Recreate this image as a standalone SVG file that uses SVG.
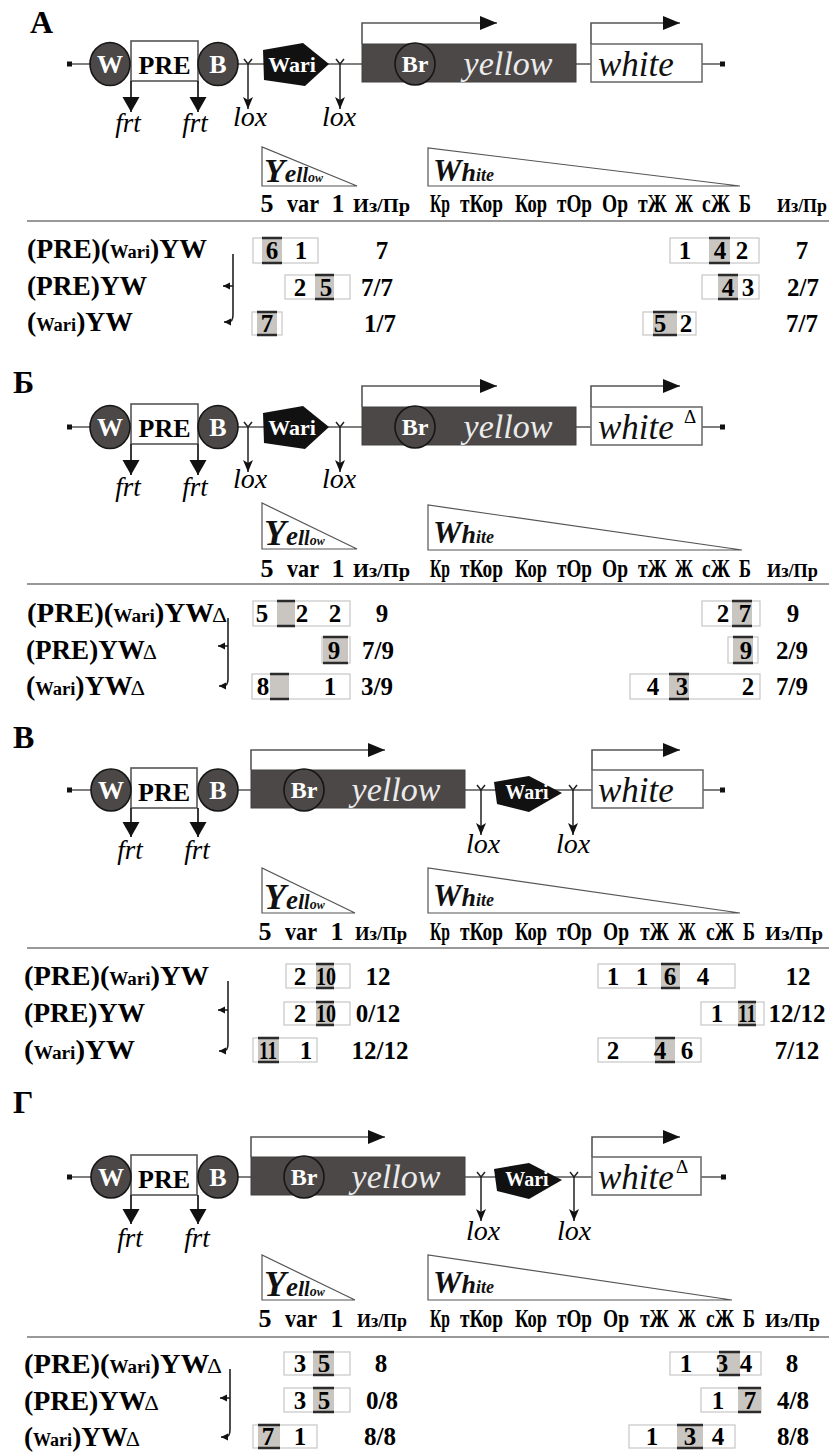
<svg xmlns="http://www.w3.org/2000/svg" width="829" height="1452" viewBox="0 0 829 1452">
<defs>
<style>
text{font-family:"Liberation Serif","Times New Roman",serif}
.bb{stroke:#555;stroke-width:1.6;fill:none}
.dk{fill:#4b4847;stroke:#161616;stroke-width:1.6}
.yg{fill:#4b4847;stroke:#404040;stroke-width:1}
.wg{fill:#fff;stroke:#6e6e6e;stroke-width:1.6}
.pre{fill:#fff;stroke:#555;stroke-width:1.6}
.wari{fill:#111}
.tss{stroke:#555;stroke-width:1.6;fill:none;marker-end:url(#tss)}
.frt{stroke:#222;stroke-width:1.8;fill:none;marker-end:url(#frtH)}
.lox{stroke:#222;stroke-width:1.5;fill:none;marker-end:url(#loxH)}
.fork{stroke:#222;stroke-width:1.5;fill:none}
.sq{fill:#111}
.pl{font-size:32px;font-weight:bold}
.wt{fill:#fff;font-weight:bold;text-anchor:middle}
.it{font-style:italic}
.mid{text-anchor:middle}
.ytx{font-style:italic;fill:#ebebeb;font-size:34px;text-anchor:middle}
.wtx{font-style:italic;fill:#111;font-size:35px}
.dl{font-size:19px;text-anchor:middle}
.tri{fill:#fff;stroke:#555;stroke-width:1.2}
.tt{font-style:italic;font-weight:bold;fill:#111}
.hd{font-size:26px;font-weight:bold}
.hs{font-size:19px;font-weight:bold}
.rule{stroke:#777;stroke-width:1.5}
.lb{font-size:27px;font-weight:bold}
.sw{font-size:18px}
.ld{font-size:22px;font-weight:normal}
.n{font-size:25px;font-weight:bold;text-anchor:middle}
.bx{fill:#fff;stroke:#c6c6c6;stroke-width:1.2}
.sh{fill:#c9c5c1}
.shl{stroke:#2b2b2b;stroke-width:2.5}
.br{stroke:#222;stroke-width:1.6;fill:none}
.bra{stroke:#222;stroke-width:1.6;fill:none;marker-end:url(#brH)}
</style>
<marker id="tss" markerUnits="userSpaceOnUse" markerWidth="18" markerHeight="16" refX="17" refY="7" orient="auto"><path d="M0,0 L17,7 L0,14 Z" fill="#111"/></marker>
<marker id="frtH" markerUnits="userSpaceOnUse" markerWidth="16" markerHeight="18" refX="15" refY="8.5" orient="auto"><path d="M0,0 L15,8.5 L0,17 Z" fill="#111"/></marker>
<marker id="loxH" markerUnits="userSpaceOnUse" markerWidth="13" markerHeight="11" refX="12" refY="5" orient="auto"><path d="M0,0 L12,5 L0,10 L3,5 Z" fill="#111"/></marker>
<marker id="brH" markerUnits="userSpaceOnUse" markerWidth="8" markerHeight="8" refX="7" refY="3.5" orient="auto"><path d="M0,0 L7,3.5 L0,7 Z" fill="#111"/></marker>
</defs>

<!-- ===================== Panel A ===================== -->
<g id="panelA">
<text class="pl" x="30" y="33">А</text>
<g id="A-construct">
<line class="bb" x1="70" y1="64" x2="722" y2="64"/>
<rect class="sq" x="67" y="61.5" width="5" height="5"/>
<rect class="sq" x="720" y="61.5" width="5" height="5"/>
<g id="A-pre"><rect class="pre" x="131" y="41" width="67" height="40"/><text x="164.5" y="74" font-size="26" font-weight="bold" class="mid">PRE</text></g>
<g id="A-W"><ellipse class="dk" cx="110" cy="64" rx="20" ry="21.5"/><text class="wt" x="110" y="73" font-size="26">W</text></g>
<g id="A-B"><ellipse class="dk" cx="218" cy="64" rx="20" ry="21.5"/><text class="wt" x="218" y="73" font-size="26">B</text></g>
<g id="A-wari"><polygon class="wari" points="263,50 303,43 329,64 305,86 264,80"/><text class="wt" x="292" y="72" font-size="22">Wari</text></g>
<g id="A-yellow"><rect class="yg" x="362" y="44" width="214" height="38"/><ellipse class="dk" cx="415" cy="64" rx="20" ry="21"/><text class="wt" x="415" y="72" font-size="24">Br</text><text class="ytx" x="508" y="75">yellow</text></g>
<g id="A-white"><rect class="wg" x="591" y="44" width="111" height="38"/><text class="wtx" x="598" y="76">white</text></g>
</g>
<g id="A-connectors">
<path class="tss" d="M362,44 V23 H497"/>
<path class="tss" d="M591,44 V23 H680"/>
<path class="frt" d="M131,81 V112"/><path class="frt" d="M198,81 V112"/>
<path class="fork" d="M244,59 L248,64 L252,59"/><path class="lox" d="M248,64 V109"/>
<path class="fork" d="M336,59 L340,64 L344,59"/><path class="lox" d="M340,64 V109"/>
</g>
<text class="it mid" x="128" y="132" font-size="27">frt</text>
<text class="it mid" x="195" y="132" font-size="27">frt</text>
<text class="it mid" x="250" y="126" font-size="28">lox</text>
<text class="it mid" x="339" y="126" font-size="28">lox</text>

<g id="A-table">
<polygon class="tri" points="262,147 262,186 357,186"/>
<text class="tt" x="264" y="182"><tspan font-size="34">Y</tspan><tspan font-size="26">e</tspan><tspan font-size="22">l</tspan><tspan font-size="20">l</tspan><tspan font-size="14">o</tspan><tspan font-size="12">w</tspan></text>
<polygon class="tri" points="428,148 428,186 740,186"/>
<text class="tt" x="433" y="181"><tspan font-size="32">W</tspan><tspan font-size="26">h</tspan><tspan font-size="18">ite</tspan></text>
<text class="hd mid" x="267" y="212">5</text><text class="hd" x="287" y="212" textLength="32" lengthAdjust="spacingAndGlyphs">var</text><text class="hd mid" x="338" y="212">1</text>
<text class="hs" x="353" y="212" textLength="57" lengthAdjust="spacingAndGlyphs">Из/Пр</text>
<text class="hd" x="430" y="212" textLength="20" lengthAdjust="spacingAndGlyphs">Кр</text>
<text class="hd" x="460" y="212" textLength="43" lengthAdjust="spacingAndGlyphs">тКор</text>
<text class="hd" x="515" y="212" textLength="32" lengthAdjust="spacingAndGlyphs">Кор</text>
<text class="hd" x="557" y="212" textLength="35" lengthAdjust="spacingAndGlyphs">тОр</text>
<text class="hd" x="602" y="212" textLength="26" lengthAdjust="spacingAndGlyphs">Ор</text>
<text class="hd" x="638" y="212" textLength="29" lengthAdjust="spacingAndGlyphs">тЖ</text>
<text class="hd" x="675" y="212" textLength="18" lengthAdjust="spacingAndGlyphs">Ж</text>
<text class="hd" x="702" y="212" textLength="28" lengthAdjust="spacingAndGlyphs">сЖ</text>
<text class="hd" x="739" y="212" textLength="12" lengthAdjust="spacingAndGlyphs">Б</text>
<text class="hs" x="777" y="212" textLength="50" lengthAdjust="spacingAndGlyphs">Из/Пр</text>
<line class="rule" x1="27" y1="221" x2="829" y2="221"/>

<text class="lb" x="27" y="258" textLength="180" lengthAdjust="spacingAndGlyphs">(PRE)(<tspan class="sw">Wari</tspan>)YW</text>
<text class="lb" x="27" y="295" textLength="120" lengthAdjust="spacingAndGlyphs">(PRE)YW</text>
<text class="lb" x="27" y="331" textLength="106" lengthAdjust="spacingAndGlyphs">(<tspan class="sw">Wari</tspan>)YW</text>
<path class="br" d="M233,254 V315 Q233,322 228,322"/>
<path class="bra" d="M228,322 H224"/>
<path class="bra" d="M233,286 H223"/>

<!-- row 1 -->
<rect class="bx" x="253" y="238" width="65" height="25"/><rect class="sh" x="262" y="238" width="20" height="25"/><path class="shl" d="M262,238 H282 M262,263 H282"/>
<text class="n" x="272" y="259">6</text><text class="n" x="301" y="259">1</text><text class="n" x="382" y="259">7</text>
<rect class="bx" x="670" y="238" width="89" height="25"/><rect class="sh" x="709" y="238" width="21" height="25"/><path class="shl" d="M709,238 H730 M709,263 H730"/>
<text class="n" x="685" y="259">1</text><text class="n" x="720" y="259">4</text><text class="n" x="742" y="259">2</text><text class="n" x="802" y="259">7</text>
<!-- row 2 -->
<rect class="bx" x="285" y="275" width="65" height="24"/><rect class="sh" x="315" y="275" width="19" height="24"/><path class="shl" d="M315,275 H334 M315,299 H334"/>
<text class="n" x="300" y="296">2</text><text class="n" x="326" y="296">5</text><text class="n" x="377" y="296">7/7</text>
<rect class="bx" x="702" y="275" width="57" height="24"/><rect class="sh" x="718" y="275" width="20" height="24"/><path class="shl" d="M718,275 H738 M718,299 H738"/>
<text class="n" x="728" y="296">4</text><text class="n" x="748" y="296">3</text><text class="n" x="803" y="296">2/7</text>
<!-- row 3 -->
<rect class="bx" x="252" y="312" width="30" height="23"/><rect class="sh" x="257" y="312" width="20" height="23"/><path class="shl" d="M257,312 H277 M257,335 H277"/>
<text class="n" x="267" y="332">7</text><text class="n" x="380" y="332">1/7</text>
<rect class="bx" x="643" y="312" width="53" height="23"/><rect class="sh" x="653" y="312" width="24" height="23"/><path class="shl" d="M653,312 H677 M653,335 H677"/>
<text class="n" x="660" y="332">5</text><text class="n" x="686" y="332">2</text><text class="n" x="802" y="332">7/7</text>
</g>
</g>

<!-- ===================== Panel Б ===================== -->
<g id="panelB">
<text class="pl" x="13" y="393">Б</text>
<g id="B-construct" transform="translate(0,363)">
<line class="bb" x1="70" y1="64" x2="722" y2="64"/>
<rect class="sq" x="67" y="61.5" width="5" height="5"/>
<rect class="sq" x="720" y="61.5" width="5" height="5"/>
<g id="B-pre"><rect class="pre" x="131" y="41" width="67" height="40"/><text x="164.5" y="74" font-size="26" font-weight="bold" class="mid">PRE</text></g>
<g id="B-W"><ellipse class="dk" cx="110" cy="64" rx="20" ry="21.5"/><text class="wt" x="110" y="73" font-size="26">W</text></g>
<g id="B-B"><ellipse class="dk" cx="218" cy="64" rx="20" ry="21.5"/><text class="wt" x="218" y="73" font-size="26">B</text></g>
<g id="B-wari"><polygon class="wari" points="263,50 303,43 329,64 305,86 264,80"/><text class="wt" x="292" y="72" font-size="22">Wari</text></g>
<g id="B-yellow"><rect class="yg" x="362" y="44" width="214" height="38"/><ellipse class="dk" cx="415" cy="64" rx="20" ry="21"/><text class="wt" x="415" y="72" font-size="24">Br</text><text class="ytx" x="508" y="75">yellow</text></g>
<g id="B-white"><rect class="wg" x="591" y="44" width="111" height="38"/><text class="wtx" x="598" y="76">white</text><text class="dl" x="690" y="60">Δ</text></g>
<g id="B-connectors">
<path class="tss" d="M362,44 V23 H497"/>
<path class="tss" d="M591,44 V23 H680"/>
<path class="frt" d="M131,81 V112"/><path class="frt" d="M198,81 V112"/>
<path class="fork" d="M244,59 L248,64 L252,59"/><path class="lox" d="M248,64 V109"/>
<path class="fork" d="M336,59 L340,64 L344,59"/><path class="lox" d="M340,64 V109"/>
</g>
<text class="it mid" x="128" y="133" font-size="27">frt</text>
<text class="it mid" x="195" y="133" font-size="27">frt</text>
<text class="it mid" x="250" y="125" font-size="28">lox</text>
<text class="it mid" x="339" y="125" font-size="28">lox</text>
</g>

<g id="B-table">
<polygon class="tri" points="262,503 262,549 357,549"/>
<text class="tt" x="264" y="545"><tspan font-size="36">Y</tspan><tspan font-size="27">e</tspan><tspan font-size="22">l</tspan><tspan font-size="20">l</tspan><tspan font-size="14">o</tspan><tspan font-size="12">w</tspan></text>
<polygon class="tri" points="428,505 428,550 742,550"/>
<text class="tt" x="433" y="543"><tspan font-size="32">W</tspan><tspan font-size="26">h</tspan><tspan font-size="18">ite</tspan></text>
<text class="hd mid" x="267" y="577">5</text><text class="hd" x="287" y="577" textLength="32" lengthAdjust="spacingAndGlyphs">var</text><text class="hd mid" x="338" y="577">1</text>
<text class="hs" x="353" y="577" textLength="57" lengthAdjust="spacingAndGlyphs">Из/Пр</text>
<text class="hd" x="430" y="577" textLength="20" lengthAdjust="spacingAndGlyphs">Кр</text>
<text class="hd" x="460" y="577" textLength="43" lengthAdjust="spacingAndGlyphs">тКор</text>
<text class="hd" x="515" y="577" textLength="32" lengthAdjust="spacingAndGlyphs">Кор</text>
<text class="hd" x="557" y="577" textLength="35" lengthAdjust="spacingAndGlyphs">тОр</text>
<text class="hd" x="602" y="577" textLength="26" lengthAdjust="spacingAndGlyphs">Ор</text>
<text class="hd" x="638" y="577" textLength="29" lengthAdjust="spacingAndGlyphs">тЖ</text>
<text class="hd" x="675" y="577" textLength="18" lengthAdjust="spacingAndGlyphs">Ж</text>
<text class="hd" x="702" y="577" textLength="28" lengthAdjust="spacingAndGlyphs">сЖ</text>
<text class="hd" x="739" y="577" textLength="12" lengthAdjust="spacingAndGlyphs">Б</text>
<text class="hs" x="767" y="577" textLength="51" lengthAdjust="spacingAndGlyphs">Из/Пр</text>
<line class="rule" x1="27" y1="584" x2="829" y2="584"/>

<text class="lb" x="27" y="622" textLength="200" lengthAdjust="spacingAndGlyphs">(PRE)(<tspan class="sw">Wari</tspan>)YW<tspan class="ld" dx="-2">Δ</tspan></text>
<text class="lb" x="26" y="659" textLength="131" lengthAdjust="spacingAndGlyphs">(PRE)YW<tspan class="ld" dx="-2">Δ</tspan></text>
<text class="lb" x="26" y="695" textLength="119" lengthAdjust="spacingAndGlyphs">(<tspan class="sw">Wari</tspan>)YW<tspan class="ld" dx="-2">Δ</tspan></text>
<path class="br" d="M228,618 V679 Q228,686 223,686"/>
<path class="bra" d="M223,686 H219"/>
<path class="bra" d="M228,646 H218"/>

<!-- row 1 -->
<rect class="bx" x="253" y="601" width="97" height="25"/><rect class="sh" x="277" y="601" width="18" height="25"/><path class="shl" d="M277,601 H295 M277,626 H295"/>
<text class="n" x="262" y="622">5</text><text class="n" x="302" y="622">2</text><text class="n" x="335" y="622">2</text><text class="n" x="382" y="622">9</text>
<rect class="bx" x="702" y="601" width="58" height="25"/><rect class="sh" x="732" y="601" width="20" height="25"/><path class="shl" d="M732,601 H752 M732,626 H752"/>
<text class="n" x="723" y="622">2</text><text class="n" x="745" y="622">7</text><text class="n" x="793" y="622">9</text>
<!-- row 2 -->
<rect class="bx" x="322" y="637" width="28" height="26"/><rect class="sh" x="323" y="637" width="25" height="26"/><path class="shl" d="M323,637 H348 M323,663 H348"/>
<text class="n" x="334" y="659">9</text><text class="n" x="378" y="659">7/9</text>
<rect class="bx" x="728" y="637" width="30" height="26"/><rect class="sh" x="733" y="637" width="20" height="26"/><path class="shl" d="M733,637 H753 M733,663 H753"/>
<text class="n" x="746" y="659">9</text><text class="n" x="792" y="659">2/9</text>
<!-- row 3 -->
<rect class="bx" x="252" y="674" width="98" height="25"/><rect class="sh" x="270" y="674" width="19" height="25"/><path class="shl" d="M270,674 H289 M270,699 H289"/>
<text class="n" x="263" y="695">8</text><text class="n" x="330" y="695">1</text><text class="n" x="377" y="695">3/9</text>
<rect class="bx" x="630" y="674" width="130" height="25"/><rect class="sh" x="669" y="674" width="20" height="25"/><path class="shl" d="M669,674 H689 M669,699 H689"/>
<text class="n" x="653" y="695">4</text><text class="n" x="682" y="695">3</text><text class="n" x="748" y="695">2</text><text class="n" x="792" y="695">7/9</text>
</g>
</g>

<!-- ===================== Panel В ===================== -->
<g id="panelV">
<text class="pl" x="13" y="748">В</text>
<g id="V-construct" transform="translate(0,726)">
<line class="bb" x1="70" y1="64" x2="722" y2="64"/>
<rect class="sq" x="67" y="61.5" width="5" height="5"/>
<rect class="sq" x="720" y="61.5" width="5" height="5"/>
<g id="V-pre"><rect class="pre" x="131" y="42" width="66" height="40"/><text x="164" y="75" font-size="26" font-weight="bold" class="mid">PRE</text></g>
<g id="V-W"><ellipse class="dk" cx="111" cy="64" rx="20" ry="21"/><text class="wt" x="111" y="73" font-size="26">W</text></g>
<g id="V-B"><ellipse class="dk" cx="218" cy="64" rx="20" ry="21"/><text class="wt" x="218" y="73" font-size="26">B</text></g>
<g id="V-yellow"><rect class="yg" x="251" y="44" width="214" height="38"/><ellipse class="dk" cx="304" cy="64" rx="20" ry="21"/><text class="wt" x="304" y="72" font-size="24">Br</text><text class="ytx" x="396" y="75">yellow</text></g>
<g id="V-wari"><polygon class="wari" points="494,56 529,50 562,67 529,86 497,78"/><text class="wt" x="527" y="73" font-size="20">Wari</text></g>
<g id="V-white"><rect class="wg" x="592" y="44" width="111" height="38"/><text class="wtx" x="598" y="76">white</text></g>
<g id="V-connectors">
<path class="tss" d="M251,44 V24 H385"/>
<path class="tss" d="M592,44 V24 H680"/>
<path class="frt" d="M131,82 V111"/><path class="frt" d="M198,82 V111"/>
<path class="fork" d="M477,59 L481,64 L485,59"/><path class="lox" d="M481,64 V109"/>
<path class="fork" d="M569,59 L573,64 L577,59"/><path class="lox" d="M573,64 V109"/>
</g>
<text class="it mid" x="130" y="133" font-size="27">frt</text>
<text class="it mid" x="197" y="133" font-size="27">frt</text>
<text class="it mid" x="483" y="127" font-size="28">lox</text>
<text class="it mid" x="573" y="127" font-size="28">lox</text>
</g>

<g id="V-table">
<polygon class="tri" points="262,868 262,913 355,913"/>
<text class="tt" x="264" y="909"><tspan font-size="36">Y</tspan><tspan font-size="27">e</tspan><tspan font-size="22">l</tspan><tspan font-size="20">l</tspan><tspan font-size="14">o</tspan><tspan font-size="12">w</tspan></text>
<polygon class="tri" points="428,868 428,913 740,913"/>
<text class="tt" x="433" y="906"><tspan font-size="32">W</tspan><tspan font-size="26">h</tspan><tspan font-size="18">ite</tspan></text>
<text class="hd mid" x="265" y="940">5</text><text class="hd" x="285" y="940" textLength="32" lengthAdjust="spacingAndGlyphs">var</text><text class="hd mid" x="337" y="940">1</text>
<text class="hs" x="355" y="940" textLength="52" lengthAdjust="spacingAndGlyphs">Из/Пр</text>
<text class="hd" x="430" y="940" textLength="20" lengthAdjust="spacingAndGlyphs">Кр</text>
<text class="hd" x="460" y="940" textLength="43" lengthAdjust="spacingAndGlyphs">тКор</text>
<text class="hd" x="515" y="940" textLength="32" lengthAdjust="spacingAndGlyphs">Кор</text>
<text class="hd" x="557" y="940" textLength="35" lengthAdjust="spacingAndGlyphs">тОр</text>
<text class="hd" x="603" y="940" textLength="26" lengthAdjust="spacingAndGlyphs">Ор</text>
<text class="hd" x="640" y="940" textLength="29" lengthAdjust="spacingAndGlyphs">тЖ</text>
<text class="hd" x="678" y="940" textLength="18" lengthAdjust="spacingAndGlyphs">Ж</text>
<text class="hd" x="706" y="940" textLength="28" lengthAdjust="spacingAndGlyphs">сЖ</text>
<text class="hd" x="743" y="940" textLength="12" lengthAdjust="spacingAndGlyphs">Б</text>
<text class="hs" x="765" y="940" textLength="58" lengthAdjust="spacingAndGlyphs">Из/Пр</text>
<line class="rule" x1="27" y1="948" x2="829" y2="948"/>

<text class="lb" x="24" y="985" textLength="185" lengthAdjust="spacingAndGlyphs">(PRE)(<tspan class="sw">Wari</tspan>)YW</text>
<text class="lb" x="24" y="1022" textLength="121" lengthAdjust="spacingAndGlyphs">(PRE)YW</text>
<text class="lb" x="24" y="1059" textLength="111" lengthAdjust="spacingAndGlyphs">(<tspan class="sw">Wari</tspan>)YW</text>
<path class="br" d="M228,981 V1044 Q228,1051 223,1051"/>
<path class="bra" d="M223,1051 H219"/>
<path class="bra" d="M228,1010 H218"/>

<!-- row 1 -->
<rect class="bx" x="286" y="964" width="64" height="24"/><rect class="sh" x="316" y="964" width="18" height="24"/><path class="shl" d="M316,964 H334 M316,988 H334"/>
<text class="n" x="300" y="985">2</text><text class="n" x="326" y="985" textLength="20" lengthAdjust="spacingAndGlyphs">10</text><text class="n" x="378" y="985">12</text>
<rect class="bx" x="598" y="964" width="137" height="24"/><rect class="sh" x="661" y="964" width="19" height="24"/><path class="shl" d="M661,964 H680 M661,988 H680"/>
<text class="n" x="613" y="985">1</text><text class="n" x="642" y="985">1</text><text class="n" x="670" y="985">6</text><text class="n" x="703" y="985">4</text><text class="n" x="798" y="985">12</text>
<!-- row 2 -->
<rect class="bx" x="284" y="1002" width="66" height="23"/><rect class="sh" x="316" y="1002" width="18" height="23"/><path class="shl" d="M316,1002 H334 M316,1025 H334"/>
<text class="n" x="300" y="1022">2</text><text class="n" x="326" y="1022" textLength="20" lengthAdjust="spacingAndGlyphs">10</text><text class="n" x="378" y="1022">0/12</text>
<rect class="bx" x="701" y="1002" width="63" height="23"/><rect class="sh" x="738" y="1002" width="18" height="23"/><path class="shl" d="M738,1002 H756 M738,1025 H756"/>
<text class="n" x="717" y="1022">1</text><text class="n" x="747" y="1022" textLength="18" lengthAdjust="spacingAndGlyphs">11</text><text class="n" x="797" y="1022">12/12</text>
<!-- row 3 -->
<rect class="bx" x="253" y="1038" width="64" height="24"/><rect class="sh" x="258" y="1038" width="21" height="24"/><path class="shl" d="M258,1038 H279 M258,1062 H279"/>
<text class="n" x="268" y="1059" textLength="18" lengthAdjust="spacingAndGlyphs">11</text><text class="n" x="306" y="1059">1</text><text class="n" x="380" y="1059">12/12</text>
<rect class="bx" x="598" y="1038" width="103" height="24"/><rect class="sh" x="655" y="1038" width="20" height="24"/><path class="shl" d="M655,1038 H675 M655,1062 H675"/>
<text class="n" x="613" y="1059">2</text><text class="n" x="660" y="1059">4</text><text class="n" x="687" y="1059">6</text><text class="n" x="797" y="1059">7/12</text>
</g>
</g>

<!-- ===================== Panel Г ===================== -->
<g id="panelG">
<text class="pl" x="13" y="1113">Г</text>
<g id="G-construct" transform="translate(0,1113)">
<line class="bb" x1="70" y1="64" x2="722" y2="64"/>
<rect class="sq" x="67" y="61.5" width="5" height="5"/>
<rect class="sq" x="721" y="61.5" width="5" height="5"/>
<g id="G-pre"><rect class="pre" x="131" y="42" width="66" height="40"/><text x="164" y="75" font-size="26" font-weight="bold" class="mid">PRE</text></g>
<g id="G-W"><ellipse class="dk" cx="111" cy="64" rx="20" ry="21"/><text class="wt" x="111" y="73" font-size="26">W</text></g>
<g id="G-B"><ellipse class="dk" cx="218" cy="64" rx="20" ry="21"/><text class="wt" x="218" y="73" font-size="26">B</text></g>
<g id="G-yellow"><rect class="yg" x="251" y="44" width="214" height="38"/><ellipse class="dk" cx="304" cy="64" rx="20" ry="21"/><text class="wt" x="304" y="72" font-size="24">Br</text><text class="ytx" x="396" y="75">yellow</text></g>
<g id="G-wari"><polygon class="wari" points="494,56 529,50 562,67 529,86 497,78"/><text class="wt" x="527" y="73" font-size="20">Wari</text></g>
<g id="G-white"><rect class="wg" x="592" y="44" width="109" height="38"/><text class="wtx" x="598" y="76">white</text><text class="dl" x="682" y="60">Δ</text></g>
<g id="G-connectors">
<path class="tss" d="M251,44 V24 H385"/>
<path class="tss" d="M592,44 V24 H680"/>
<path class="frt" d="M131,82 V111"/><path class="frt" d="M198,82 V111"/>
<path class="fork" d="M477,59 L481,64 L485,59"/><path class="lox" d="M481,64 V108"/>
<path class="fork" d="M570,59 L574,64 L578,59"/><path class="lox" d="M574,64 V108"/>
</g>
<text class="it mid" x="130" y="134" font-size="27">frt</text>
<text class="it mid" x="197" y="134" font-size="27">frt</text>
<text class="it mid" x="483" y="127" font-size="28">lox</text>
<text class="it mid" x="574" y="127" font-size="28">lox</text>
</g>

<g id="G-table">
<polygon class="tri" points="262,1255 262,1300 355,1300"/>
<text class="tt" x="264" y="1296"><tspan font-size="36">Y</tspan><tspan font-size="27">e</tspan><tspan font-size="22">l</tspan><tspan font-size="20">l</tspan><tspan font-size="14">o</tspan><tspan font-size="12">w</tspan></text>
<polygon class="tri" points="428,1255 428,1300 732,1300"/>
<text class="tt" x="433" y="1293"><tspan font-size="32">W</tspan><tspan font-size="26">h</tspan><tspan font-size="18">ite</tspan></text>
<text class="hd mid" x="265" y="1327">5</text><text class="hd" x="285" y="1327" textLength="32" lengthAdjust="spacingAndGlyphs">var</text><text class="hd mid" x="337" y="1327">1</text>
<text class="hs" x="357" y="1327" textLength="50" lengthAdjust="spacingAndGlyphs">Из/Пр</text>
<text class="hd" x="430" y="1327" textLength="20" lengthAdjust="spacingAndGlyphs">Кр</text>
<text class="hd" x="460" y="1327" textLength="43" lengthAdjust="spacingAndGlyphs">тКор</text>
<text class="hd" x="515" y="1327" textLength="32" lengthAdjust="spacingAndGlyphs">Кор</text>
<text class="hd" x="557" y="1327" textLength="35" lengthAdjust="spacingAndGlyphs">тОр</text>
<text class="hd" x="603" y="1327" textLength="26" lengthAdjust="spacingAndGlyphs">Ор</text>
<text class="hd" x="640" y="1327" textLength="29" lengthAdjust="spacingAndGlyphs">тЖ</text>
<text class="hd" x="678" y="1327" textLength="18" lengthAdjust="spacingAndGlyphs">Ж</text>
<text class="hd" x="706" y="1327" textLength="28" lengthAdjust="spacingAndGlyphs">сЖ</text>
<text class="hd" x="743" y="1327" textLength="12" lengthAdjust="spacingAndGlyphs">Б</text>
<text class="hs" x="765" y="1327" textLength="55" lengthAdjust="spacingAndGlyphs">Из/Пр</text>
<line class="rule" x1="27" y1="1337" x2="829" y2="1337"/>

<text class="lb" x="24" y="1373" textLength="198" lengthAdjust="spacingAndGlyphs">(PRE)(<tspan class="sw">Wari</tspan>)YW<tspan class="ld" dx="-2">Δ</tspan></text>
<text class="lb" x="24" y="1410" textLength="135" lengthAdjust="spacingAndGlyphs">(PRE)YW<tspan class="ld" dx="-2">Δ</tspan></text>
<text class="lb" x="24" y="1446" textLength="116" lengthAdjust="spacingAndGlyphs">(<tspan class="sw">Wari</tspan>)YW<tspan class="ld" dx="-2">Δ</tspan></text>
<path class="br" d="M230,1369 V1430 Q230,1437 225,1437"/>
<path class="bra" d="M225,1437 H221"/>
<path class="bra" d="M230,1398 H220"/>

<!-- row 1 -->
<rect class="bx" x="284" y="1352" width="66" height="23"/><rect class="sh" x="313" y="1352" width="21" height="23"/><path class="shl" d="M313,1352 H334 M313,1375 H334"/>
<text class="n" x="300" y="1372">3</text><text class="n" x="324" y="1372">5</text><text class="n" x="381" y="1372">8</text>
<rect class="bx" x="670" y="1352" width="91" height="23"/><rect class="sh" x="719" y="1352" width="21" height="23"/><path class="shl" d="M719,1352 H740 M719,1375 H740"/>
<text class="n" x="686" y="1372">1</text><text class="n" x="722" y="1372">3</text><text class="n" x="746" y="1372">4</text><text class="n" x="792" y="1372">8</text>
<!-- row 2 -->
<rect class="bx" x="284" y="1388" width="66" height="24"/><rect class="sh" x="313" y="1388" width="21" height="24"/><path class="shl" d="M313,1388 H334 M313,1412 H334"/>
<text class="n" x="300" y="1409">3</text><text class="n" x="324" y="1409">5</text><text class="n" x="382" y="1409">0/8</text>
<rect class="bx" x="701" y="1388" width="60" height="24"/><rect class="sh" x="738" y="1388" width="23" height="24"/><path class="shl" d="M738,1388 H761 M738,1412 H761"/>
<text class="n" x="718" y="1409">1</text><text class="n" x="750" y="1409">7</text><text class="n" x="793" y="1409">4/8</text>
<!-- row 3 -->
<rect class="bx" x="253" y="1425" width="64" height="23"/><rect class="sh" x="258" y="1425" width="22" height="23"/><path class="shl" d="M258,1425 H280 M258,1448 H280"/>
<text class="n" x="268" y="1445">7</text><text class="n" x="300" y="1445">1</text><text class="n" x="380" y="1445">8/8</text>
<rect class="bx" x="629" y="1425" width="106" height="23"/><rect class="sh" x="677" y="1425" width="26" height="23"/><path class="shl" d="M677,1425 H703 M677,1448 H703"/>
<text class="n" x="652" y="1445">1</text><text class="n" x="690" y="1445">3</text><text class="n" x="718" y="1445">4</text><text class="n" x="793" y="1445">8/8</text>
</g>
</g>
</svg>
